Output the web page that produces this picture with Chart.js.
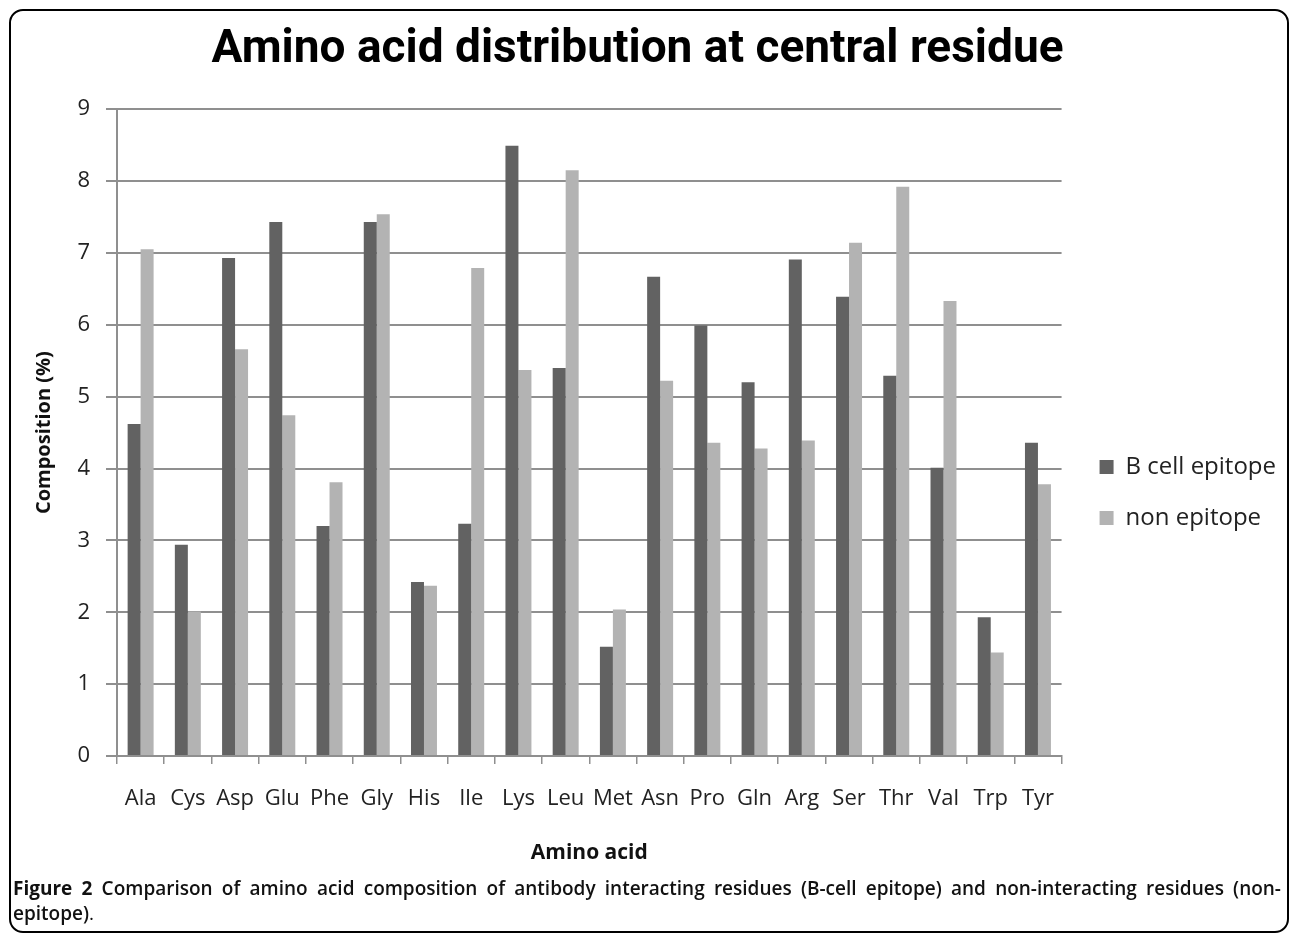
<!DOCTYPE html>
<html>
<head>
<meta charset="utf-8">
<script src="https://cdn.jsdelivr.net/npm/chart.js@4.4.1/dist/chart.umd.min.js"></script>
<style>
  body { margin: 0; background: #fff; }
  #frame {
    position: absolute; left: 9px; top: 9px; width: 1276px; height: 920px;
    border: 2px solid #000; border-radius: 14px;
  }
  #wrap { position: absolute; left: 0; top: 0; width: 1292px; height: 880px; }
  #caption {
    position: absolute; left: 13px; top: 876px; width: 1268px;
    font-family: "Open Sans", sans-serif; font-size: 19px; line-height: 25px;
    font-weight: 600; color: #111;
  }
  #caption .l1 { text-align: justify; text-align-last: justify; }
  #caption b { font-weight: 700; }
  #caption .dot { font-weight: 400; }
</style>
</head>
<body>
<div id="frame"></div>
<div id="wrap"><canvas id="myChart"></canvas></div>
<div id="caption">
  <div class="l1"><b>Figure 2</b> Comparison of amino acid composition of antibody interacting residues (B-cell epitope) and non-interacting residues (non-</div>
  <div>epitope)<span class="dot">.</span></div>
</div>
<script>
const aminoAcids = ["Ala", "Cys", "Asp", "Glu", "Phe", "Gly", "His", "Ile", "Lys", "Leu",
                    "Met", "Asn", "Pro", "Gln", "Arg", "Ser", "Thr", "Val", "Trp", "Tyr"];
const bCellEpitope = [4.62, 2.94, 6.93, 7.43, 3.2, 7.43, 2.42, 3.23, 8.49, 5.4,
                      1.52, 6.67, 5.99, 5.2, 6.91, 6.39, 5.29, 4.01, 1.93, 4.36];
const nonEpitope = [7.05, 2.01, 5.66, 4.74, 3.81, 7.54, 2.37, 6.79, 5.37, 8.15,
                    2.04, 5.22, 4.36, 4.28, 4.39, 7.14, 7.92, 6.33, 1.44, 3.78];
const yTicks = [0, 1, 2, 3, 4, 5, 6, 7, 8, 9];

const ctx = document.getElementById("myChart").getContext("2d");
const tickFont = { family: "'Open Sans', sans-serif", size: 22 };

// push the legend a bit further away from the plot, like the original
const legendShift = {
    id: "legendShift",
    afterLayout(chart) {
        chart.legend.left += 11;
        chart.legend.right += 11;
    }
};

new Chart(ctx, {
    type: "bar",
    data: {
        labels: aminoAcids,
        datasets: [
            { label: "B cell epitope", data: bCellEpitope, backgroundColor: "#626262" },
            { label: "non epitope", data: nonEpitope, backgroundColor: "#b3b3b3" }
        ]
    },
    plugins: [legendShift],
    options: {
        responsive: true,
        maintainAspectRatio: false,
        animation: false,
        layout: { padding: { left: 0, right: 17, top: 0, bottom: 0 } },
        datasets: { bar: { categoryPercentage: 0.55, barPercentage: 1.0 } },
        plugins: {
            title: {
                display: true,
                text: "Amino acid distribution at central residue",
                color: "#000",
                font: { family: "Roboto, 'Open Sans', sans-serif", size: 46, weight: "bold" },
                padding: { top: 23, bottom: 31 }
            },
            legend: {
                position: "right",
                title: { display: true, text: " ", font: { size: 1 }, padding: { top: 0, bottom: 104 } },
                labels: {
                    color: "#222",
                    font: { family: "'Open Sans', sans-serif", size: 24 },
                    boxWidth: 14,
                    boxHeight: 14,
                    padding: 27
                }
            },
            tooltip: { enabled: false }
        },
        scales: {
            x: {
                grid: { drawOnChartArea: false, color: "#8f8f8f", tickLength: 8, lineWidth: 1.5 },
                border: { color: "#8f8f8f", width: 2 },
                ticks: { color: "#222", font: tickFont, padding: 22, maxRotation: 0, autoSkip: false },
                title: {
                    display: true, text: "Amino acid", color: "#111",
                    font: { family: "'Open Sans', sans-serif", size: 21, weight: "bold" },
                    padding: { top: 0, bottom: 14 }
                },
                afterFit: s => { s.height = 124; }
            },
            y: {
                min: 0,
                max: 9,
                afterBuildTicks: s => { s.ticks = yTicks.map(v => ({ value: v })); },
                grid: { color: "#8f8f8f", lineWidth: 2, tickLength: 11 },
                border: { color: "#8f8f8f", width: 2 },
                ticks: { color: "#222", font: tickFont, padding: 16 },
                title: {
                    display: true, text: "Composition (%)", color: "#111",
                    font: { family: "'Open Sans', sans-serif", size: 20, weight: "bold" },
                    padding: { top: 32, bottom: 0 }
                },
                afterFit: s => { s.width = 117; }
            }
        }
    }
});
</script>
</body>
</html>
